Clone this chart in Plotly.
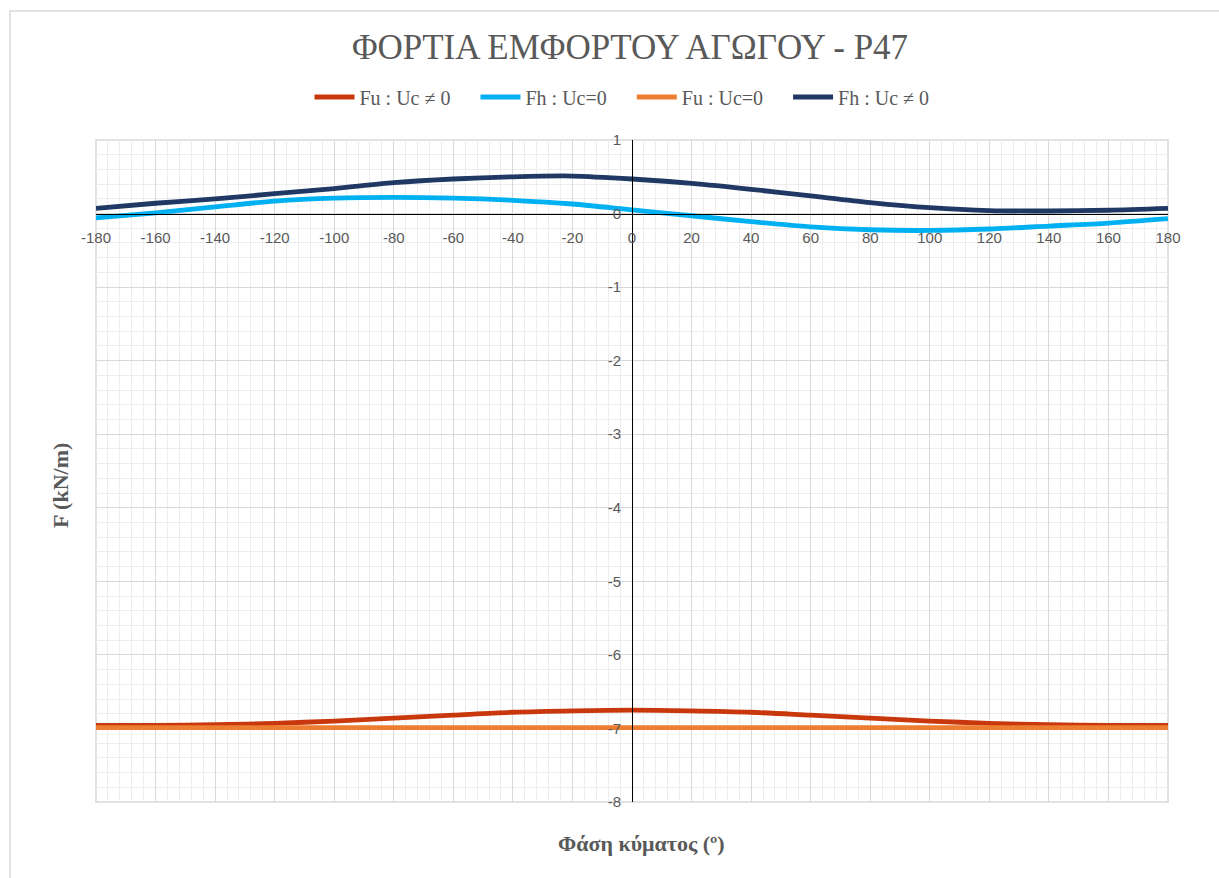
import plotly.graph_objects as go

# Wave phase (degrees)
phase = [-180, -160, -140, -120, -100, -80, -60, -40, -20, 0,
         20, 40, 60, 80, 100, 120, 140, 160, 180]

# Loads on the pipeline (kN/m)
fu_current = [-6.96, -6.96, -6.95, -6.93, -6.90, -6.86, -6.82, -6.78, -6.76, -6.75,
              -6.76, -6.78, -6.82, -6.86, -6.90, -6.93, -6.95, -6.96, -6.96]
fh_no_current = [-0.06, 0.01, 0.09, 0.17, 0.21, 0.22, 0.21, 0.18, 0.13, 0.05,
                 -0.03, -0.11, -0.18, -0.22, -0.23, -0.21, -0.17, -0.13, -0.07]
fu_no_current = [-6.99, -6.99, -6.99, -6.99, -6.99, -6.99, -6.99, -6.99, -6.99, -6.99,
                 -6.99, -6.99, -6.99, -6.99, -6.99, -6.99, -6.99, -6.99, -6.99]
fh_current = [0.07, 0.14, 0.20, 0.27, 0.34, 0.42, 0.47, 0.50, 0.51, 0.47,
              0.41, 0.33, 0.24, 0.15, 0.08, 0.04, 0.035, 0.045, 0.07]

# Tick positions and labels
x_ticks = list(range(-180, 181, 20))
x_tick_labels = [str(v) for v in x_ticks]
y_ticks = list(range(-8, 2))
y_tick_labels = [str(v) for v in y_ticks]

series = [
    ("Fu : Uc \u2260 0", fu_current, "#C9380C"),
    ("Fh : Uc=0", fh_no_current, "#00B0F0"),
    ("Fu : Uc=0", fu_no_current, "#ED7D31"),
    ("Fh : Uc \u2260 0", fh_current, "#203864"),
]

x_range = [-180, 180]
y_range = [-8, 1]

fig = go.Figure()
for name, vals, color in series:
    fig.add_trace(go.Scatter(
        x=phase, y=vals, name=name + "\u2003", mode="lines",
        line=dict(color=color, width=4.8, shape="spline", smoothing=0.8),
    ))

W, H = 1219, 878
ml, mr, mt, mb = 96, 51, 140, 76
pw, ph = W - ml - mr, H - mt - mb

tick_font = dict(family="Liberation Sans", size=15, color="#595959")
serif = "Liberation Serif"

fig.update_layout(
    width=W, height=H,
    margin=dict(l=ml, r=mr, t=mt, b=mb),
    paper_bgcolor="white", plot_bgcolor="white",
    title=dict(text="\u03a6\u039f\u03a1\u03a4\u0399\u0391 \u0395\u039c\u03a6\u039f\u03a1\u03a4\u039f\u03a5 \u0391\u0393\u03a9\u0393\u039f\u03a5 - P47",
               x=630 / W, xanchor="center", y=1 - 47 / H, yanchor="middle",
               font=dict(family=serif, size=35, color="#595959")),
    legend=dict(orientation="h", x=0.5, xanchor="center", y=1 + (140 - 97) / ph,
                yanchor="middle", font=dict(family=serif, size=20, color="#595959"),
                itemwidth=40, traceorder="normal"),
    showlegend=True,
)

fig.update_xaxes(
    range=x_range, tickvals=x_ticks, ticktext=x_tick_labels,
    anchor="free", position=(0 - y_range[0]) / (y_range[1] - y_range[0]),
    showline=True, linecolor="#000000", linewidth=1,
    zeroline=False,
    ticks="outside", ticklen=10, tickcolor="rgba(0,0,0,0)",
    tickfont=tick_font,
    showgrid=True, gridcolor="#D9D9D9", gridwidth=1,
    minor=dict(dtick=4, tick0=-180, showgrid=True, gridcolor="#EDEDED", gridwidth=1),
)
fig.update_yaxes(
    range=y_range, tickvals=y_ticks, ticktext=y_tick_labels,
    anchor="free", position=(0 - x_range[0]) / (x_range[1] - x_range[0]),
    showline=True, linecolor="#000000", linewidth=1,
    zeroline=False,
    ticks="outside", ticklen=8, tickcolor="rgba(0,0,0,0)",
    tickfont=tick_font,
    showgrid=True, gridcolor="#D9D9D9", gridwidth=1,
    minor=dict(dtick=0.2, tick0=0, showgrid=True, gridcolor="#EDEDED", gridwidth=1),
)

# Plot-area frame and chart-area frame
fig.add_shape(type="rect", xref="paper", yref="paper", x0=0, x1=1, y0=0, y1=1,
              line=dict(color="#D9D9D9", width=1.5), layer="below")
fig.add_shape(type="rect", xref="paper", yref="paper",
              x0=(10 - ml) / pw, x1=(W + 20 - ml) / pw,
              y0=-(H + 20 - mt - ph) / ph, y1=1 + (mt - 11) / ph,
              line=dict(color="#D9D9D9", width=1.5))

# Axis titles
fig.add_annotation(text="<b>F (kN/m)</b>", xref="paper", yref="paper",
                   x=(60 - ml) / pw, y=1 - (486 - mt) / ph, textangle=-90,
                   showarrow=False, xanchor="center", yanchor="middle",
                   font=dict(family=serif, size=22, color="#595959"))
fig.add_annotation(text="<b>\u03a6\u03ac\u03c3\u03b7 \u03ba\u03cd\u03bc\u03b1\u03c4\u03bf\u03c2 (\u00ba)</b>",
                   xref="paper", yref="paper",
                   x=(641 - ml) / pw, y=-(843 - mt - ph) / ph,
                   showarrow=False, xanchor="center", yanchor="middle",
                   font=dict(family=serif, size=22, color="#595959"))

fig.write_html("out.html")
